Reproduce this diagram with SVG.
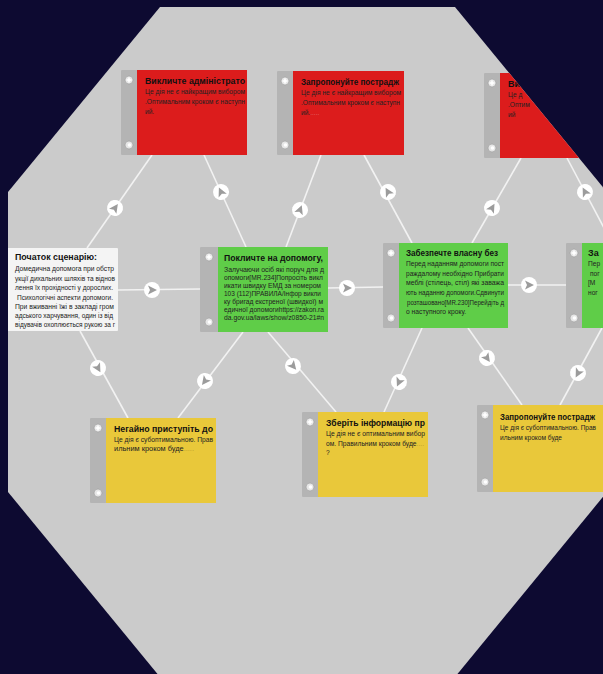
<svg xmlns="http://www.w3.org/2000/svg" width="603" height="674" viewBox="0 0 603 674">
<defs>
<style>
.bg{fill:#0d0a31}
.plate{fill:#cbcbcb}
.bar{fill:#b4b4b4}
.red{fill:#dc1c1c}
.green{fill:#5fcd48}
.yellow{fill:#e9c83a}
.white{fill:#f4f4f4}
.conn{stroke:#f2f2f2;stroke-width:1.6;fill:none}
.t{font-family:"Liberation Sans","DejaVu Sans",sans-serif;font-weight:bold;font-size:9px;fill:#111}
.b{font-family:"Liberation Sans","DejaVu Sans",sans-serif;font-size:6.6px;fill:#222}
.ico{fill:#e6e6e6;stroke:#9a9a9a;stroke-width:0.6}
</style>
<clipPath id="oct"><polygon points="160,7 455,7 607,192 607,492 455,677 160,677 8,492 8,192"/></clipPath>
<g id="arrowbadge"><circle r="8" fill="#ffffff"/><polygon points="5,0 -4,-4.5 -2,0 -4,4.5" fill="#9c9c9c"/></g>
<g id="topicon"><circle r="4" class="ico"/><path d="M0,-3.5 L1,-1 L3.5,0 L1,1 L0,3.5 L-1,1 L-3.5,0 L-1,-1 Z" fill="#ffffff"/></g>
<g id="boticon"><circle r="4" class="ico"/><circle r="1.8" cx="0.5" fill="#ffffff"/></g>
</defs>
<rect class="bg" x="0" y="0" width="603" height="674"/>
<g clip-path="url(#oct)">
<rect class="plate" x="0" y="0" width="620" height="690"/>
<g id="connectors">
<line class="conn" x1="152" y1="155" x2="87" y2="248"/>
<line class="conn" x1="204" y1="155" x2="246" y2="247"/>
<line class="conn" x1="321" y1="155" x2="286" y2="247"/>
<line class="conn" x1="364" y1="155" x2="412" y2="243"/>
<line class="conn" x1="521" y1="158" x2="472" y2="243"/>
<line class="conn" x1="567" y1="158" x2="612" y2="243"/>
<line class="conn" x1="118" y1="290" x2="200" y2="289"/>
<line class="conn" x1="328" y1="288" x2="383" y2="287"/>
<line class="conn" x1="508" y1="285" x2="566" y2="285"/>
<line class="conn" x1="80" y1="331" x2="128" y2="418"/>
<line class="conn" x1="243" y1="332" x2="178" y2="418"/>
<line class="conn" x1="268" y1="332" x2="336" y2="412"/>
<line class="conn" x1="422" y1="328" x2="384" y2="412"/>
<line class="conn" x1="468" y1="328" x2="522" y2="405"/>
<line class="conn" x1="602" y1="328" x2="560" y2="405"/>
<use href="#arrowbadge" transform="translate(115,208) rotate(-55)"/>
<use href="#arrowbadge" transform="translate(221,192) rotate(-115)"/>
<use href="#arrowbadge" transform="translate(300,210) rotate(-69)"/>
<use href="#arrowbadge" transform="translate(388,192) rotate(-119)"/>
<use href="#arrowbadge" transform="translate(492,208) rotate(-60)"/>
<use href="#arrowbadge" transform="translate(585,192) rotate(-118)"/>
<use href="#arrowbadge" transform="translate(152,290)"/>
<use href="#arrowbadge" transform="translate(347,288)"/>
<use href="#arrowbadge" transform="translate(529,285)"/>
<use href="#arrowbadge" transform="translate(98,368) rotate(61)"/>
<use href="#arrowbadge" transform="translate(205,381) rotate(127)"/>
<use href="#arrowbadge" transform="translate(293,366) rotate(50)"/>
<use href="#arrowbadge" transform="translate(399,382) rotate(114)"/>
<use href="#arrowbadge" transform="translate(487,358) rotate(55)"/>
<use href="#arrowbadge" transform="translate(578,373) rotate(118)"/>
</g>
<g id="start">
<rect class="white" x="2" y="248" width="116" height="83" rx="1"/>
<text class="t" x="15" y="260" textLength="82" lengthAdjust="spacingAndGlyphs">Початок сценарію:</text>
<text class="b" x="15" y="271" textLength="99" lengthAdjust="spacingAndGlyphs">Домедична допомога при обстр</text>
<text class="b" x="15" y="281" textLength="100" lengthAdjust="spacingAndGlyphs">укції дихальних шляхів та віднов</text>
<text class="b" x="15" y="290" textLength="98" lengthAdjust="spacingAndGlyphs">лення їх прохідності у дорослих.</text>
<text class="b" x="17" y="300" textLength="96" lengthAdjust="spacingAndGlyphs">Психологічні аспекти допомоги.</text>
<text class="b" x="15" y="309" textLength="99" lengthAdjust="spacingAndGlyphs">При вживанні їжі в закладі гром</text>
<text class="b" x="15" y="318" textLength="98" lengthAdjust="spacingAndGlyphs">адського харчування, один із від</text>
<text class="b" x="15" y="327" textLength="100" lengthAdjust="spacingAndGlyphs">відувачів охоплюється рукою за г</text>
</g>
<g id="red1">
<rect class="bar" x="121" y="70" width="17" height="85" rx="1"/>
<rect class="red" x="137" y="70" width="110" height="85"/>
<use href="#topicon" x="129" y="80"/>
<use href="#boticon" x="129" y="145"/>
<text class="t" x="145" y="84" textLength="100" lengthAdjust="spacingAndGlyphs">Викличте адміністрато</text>
<text class="b" x="145" y="94" textLength="100" lengthAdjust="spacingAndGlyphs">Це дія не є найкращим вибором</text>
<text class="b" x="145" y="104" textLength="100" lengthAdjust="spacingAndGlyphs">.Оптимальним кроком є наступн</text>
<text class="b" x="145" y="114">ий.</text>
</g>
<g id="red2">
<rect class="bar" x="277" y="71" width="17" height="84" rx="1"/>
<rect class="red" x="293" y="71" width="111" height="84"/>
<use href="#topicon" x="285" y="81"/>
<use href="#boticon" x="285" y="145"/>
<text class="t" x="301" y="85" textLength="98" lengthAdjust="spacingAndGlyphs">Запропонуйте пострадж</text>
<text class="b" x="301" y="95" textLength="100" lengthAdjust="spacingAndGlyphs">Це дія не є найкращим вибором</text>
<text class="b" x="301" y="105" textLength="99" lengthAdjust="spacingAndGlyphs">.Оптимальним кроком є наступн</text>
<text class="b" x="301" y="115">ий.<tspan fill="#e46a6a">.....</tspan></text>
</g>
<g id="red3">
<rect class="bar" x="484" y="73" width="17" height="85" rx="1"/>
<rect class="red" x="500" y="73" width="111" height="85"/>
<use href="#topicon" x="492" y="83"/>
<use href="#boticon" x="492" y="148"/>
<text class="t" x="508" y="87">Ви</text>
<text class="b" x="508" y="97">Це д</text>
<text class="b" x="508" y="107">.Оптим</text>
<text class="b" x="508" y="117">ий</text>
</g>
<g id="green1">
<rect class="bar" x="200" y="247" width="19" height="85" rx="1"/>
<rect class="green" x="218" y="247" width="110" height="85"/>
<use href="#topicon" x="209" y="257"/>
<use href="#boticon" x="209" y="322"/>
<text class="t" x="224" y="261" textLength="99" lengthAdjust="spacingAndGlyphs">Покличте на допомогу,</text>
<text class="b" x="224" y="272" textLength="100" lengthAdjust="spacingAndGlyphs">Залучаючи осіб які поруч для д</text>
<text class="b" x="224" y="280" textLength="99" lengthAdjust="spacingAndGlyphs">опомоги[MR.234]Попросіть викл</text>
<text class="b" x="224" y="288" textLength="97" lengthAdjust="spacingAndGlyphs">икати швидку ЕМД за номером</text>
<text class="b" x="224" y="296" textLength="97" lengthAdjust="spacingAndGlyphs">103 (112)ПРАВИЛА/Інфор викли</text>
<text class="b" x="224" y="304" textLength="99" lengthAdjust="spacingAndGlyphs">ку бригад екстреної (швидкої) м</text>
<text class="b" x="224" y="312" textLength="100" lengthAdjust="spacingAndGlyphs">едичної допомогиhttps://zakon.ra</text>
<text class="b" x="224" y="320" textLength="100" lengthAdjust="spacingAndGlyphs">da.gov.ua/laws/show/z0850-21#n</text>
</g>
<g id="green2">
<rect class="bar" x="383" y="243" width="17" height="85" rx="1"/>
<rect class="green" x="399" y="243" width="109" height="85"/>
<use href="#topicon" x="391" y="253"/>
<use href="#boticon" x="391" y="318"/>
<text class="t" x="406" y="256" textLength="92" lengthAdjust="spacingAndGlyphs">Забезпечте власну без</text>
<text class="b" x="406" y="266" textLength="98" lengthAdjust="spacingAndGlyphs">Перед наданням допомоги пост</text>
<text class="b" x="406" y="276" textLength="98" lengthAdjust="spacingAndGlyphs">раждалому необхідно Прибрати</text>
<text class="b" x="406" y="285" textLength="98" lengthAdjust="spacingAndGlyphs">меблі (стілець, стіл) які заважа</text>
<text class="b" x="406" y="295" textLength="98" lengthAdjust="spacingAndGlyphs">ють наданню допомоги.Сдвинути</text>
<text class="b" x="407" y="305" textLength="97" lengthAdjust="spacingAndGlyphs">розташовано[MR.230]Перейдіть д</text>
<text class="b" x="406" y="314" textLength="60" lengthAdjust="spacingAndGlyphs">о наступного кроку.</text>
</g>
<g id="green3">
<rect class="bar" x="566" y="243" width="17" height="85" rx="1"/>
<rect class="green" x="582" y="243" width="110" height="85"/>
<use href="#topicon" x="574" y="253"/>
<use href="#boticon" x="574" y="318"/>
<text class="t" x="588" y="256">За</text>
<text class="b" x="588" y="266">Пер</text>
<text class="b" x="590" y="276">пог</text>
<text class="b" x="588" y="285">[M</text>
<text class="b" x="588" y="295">ног</text>
</g>
<g id="yellow1">
<rect class="bar" x="90" y="418" width="17" height="85" rx="1"/>
<rect class="yellow" x="106" y="418" width="110" height="85"/>
<use href="#topicon" x="98" y="428"/>
<use href="#boticon" x="98" y="493"/>
<text class="t" x="114" y="432" textLength="99" lengthAdjust="spacingAndGlyphs">Негайно приступіть до</text>
<text class="b" x="114" y="442" textLength="99" lengthAdjust="spacingAndGlyphs">Це дія є субоптимальною. Прав</text>
<text class="b" x="114" y="451" textLength="80" lengthAdjust="spacingAndGlyphs">ильним кроком буде<tspan fill="#b79a2a">.....</tspan></text>
</g>
<g id="yellow2">
<rect class="bar" x="302" y="412" width="17" height="85" rx="1"/>
<rect class="yellow" x="318" y="412" width="110" height="85"/>
<use href="#topicon" x="310" y="422"/>
<use href="#boticon" x="310" y="487"/>
<text class="t" x="326" y="426" textLength="99" lengthAdjust="spacingAndGlyphs">Зберіть інформацію пр</text>
<text class="b" x="326" y="436" textLength="99" lengthAdjust="spacingAndGlyphs">Це дія не є оптимальним вибор</text>
<text class="b" x="326" y="446" textLength="98" lengthAdjust="spacingAndGlyphs">ом. Правильним кроком буде<tspan fill="#b79a2a">....</tspan></text>
<text class="b" x="326" y="455" fill="#b79a2a">?</text>
</g>
<g id="yellow3">
<rect class="bar" x="477" y="405" width="17" height="87" rx="1"/>
<rect class="yellow" x="493" y="405" width="110" height="87"/>
<use href="#topicon" x="485" y="415"/>
<use href="#boticon" x="485" y="482"/>
<text class="t" x="500" y="420" textLength="95" lengthAdjust="spacingAndGlyphs">Запропонуйте пострадж</text>
<text class="b" x="500" y="430" textLength="96" lengthAdjust="spacingAndGlyphs">Це дія є субоптимальною. Прав</text>
<text class="b" x="500" y="440" textLength="62" lengthAdjust="spacingAndGlyphs">ильним кроком буде</text>
</g>
</g>
</svg>
